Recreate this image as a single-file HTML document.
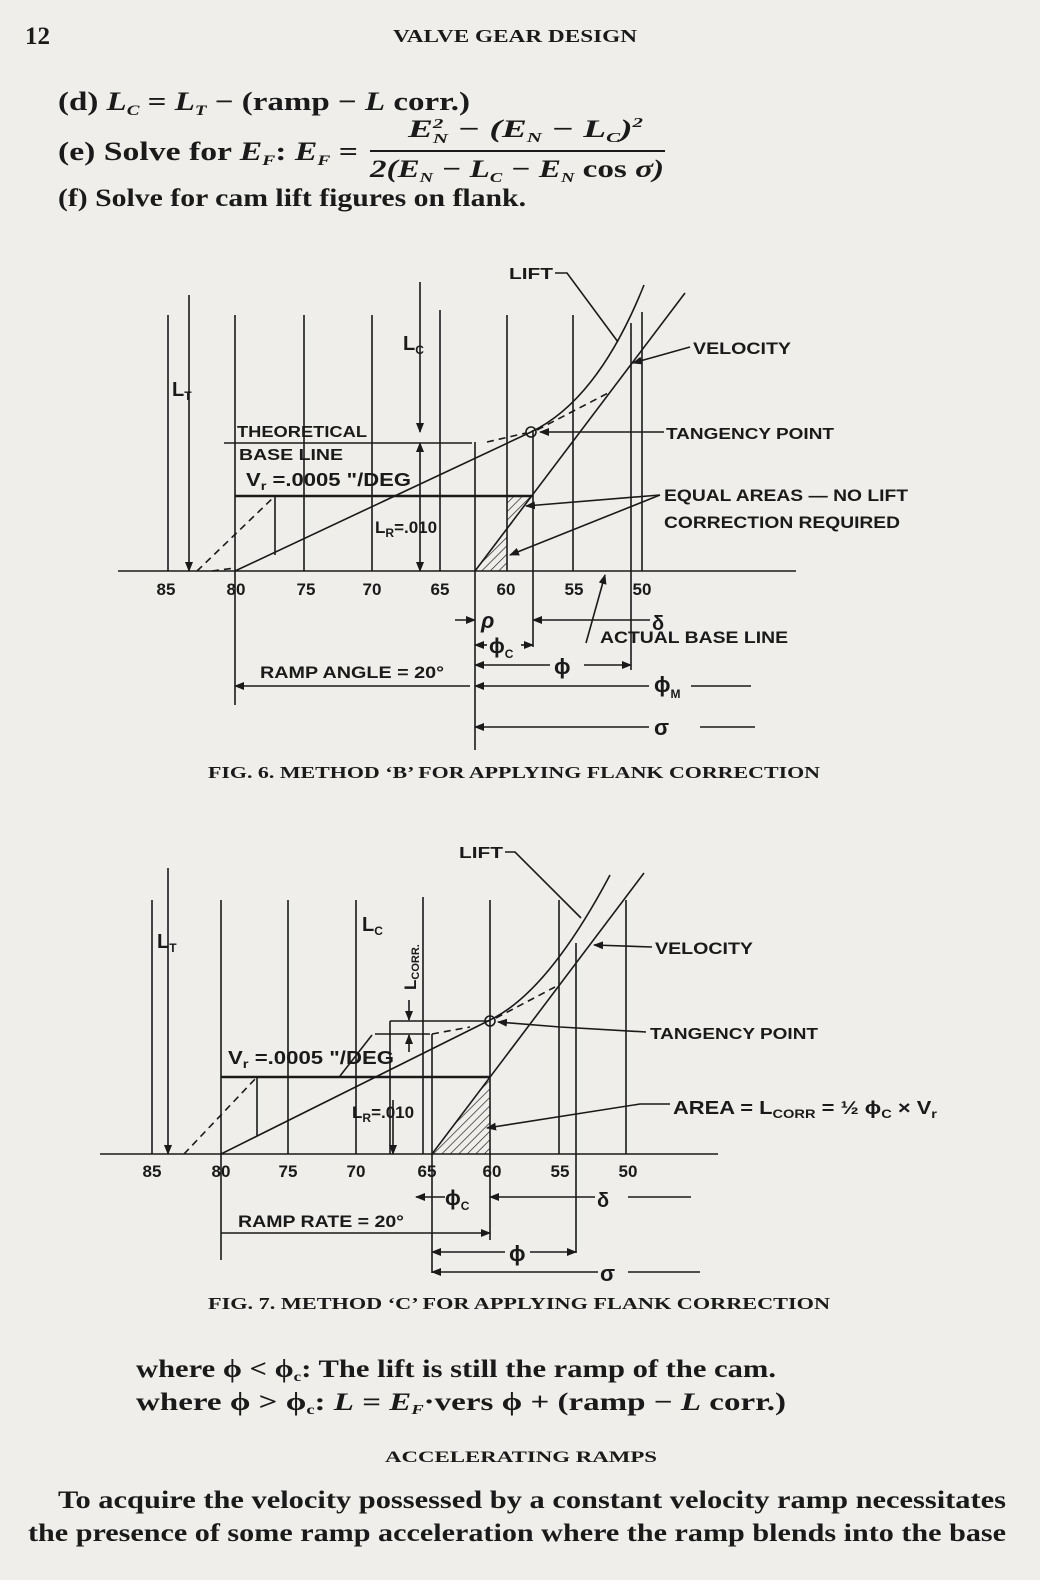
<!DOCTYPE html>
<html><head><meta charset="utf-8"><style>
html,body{margin:0;padding:0;background:#efeeeb;}
svg{display:block;}
.s{font-family:"Liberation Serif",serif;fill:#1a1a1a;}
.l{font-family:"Liberation Sans",sans-serif;fill:#1a1a1a;font-weight:bold;}
.k{stroke:#1a1a1a;stroke-width:1.6;fill:none;}
.d{stroke:#1a1a1a;stroke-width:1.6;fill:none;stroke-dasharray:7 5;}
</style></head><body>
<svg width="1040" height="1580" viewBox="0 0 1040 1580" xmlns="http://www.w3.org/2000/svg">
<defs>
<marker id="a" markerWidth="10" markerHeight="8" refX="9" refY="4" orient="auto" markerUnits="userSpaceOnUse"><path d="M0,0 L10,4 L0,8 z" fill="#1a1a1a"/></marker>
<pattern id="hp" width="6" height="6" patternUnits="userSpaceOnUse" patternTransform="rotate(45)"><line x1="0" y1="0" x2="0" y2="6" stroke="#1a1a1a" stroke-width="1.3"/></pattern>
</defs>
<rect width="1040" height="1580" fill="#efeeeb"/>

<text class="s" x="25" y="44" font-size="25" font-weight="bold">12</text>
<text class="s" x="393" y="42" font-size="18" font-weight="bold" textLength="244" lengthAdjust="spacingAndGlyphs">VALVE GEAR DESIGN</text>

<text class="s" x="58" y="110" font-size="26" font-weight="bold" textLength="412" lengthAdjust="spacingAndGlyphs">(d) <tspan font-style="italic">L</tspan><tspan font-size="15" font-style="italic" dy="5">C</tspan><tspan dy="-5"> = </tspan><tspan font-style="italic">L</tspan><tspan font-size="15" font-style="italic" dy="5">T</tspan><tspan dy="-5"> − (ramp − </tspan><tspan font-style="italic">L</tspan> corr.)</text>
<text class="s" x="58" y="160" font-size="26" font-weight="bold" textLength="300" lengthAdjust="spacingAndGlyphs">(e) Solve for <tspan font-style="italic">E</tspan><tspan font-size="15" font-style="italic" dy="5">F</tspan><tspan dy="-5">:  </tspan><tspan font-style="italic">E</tspan><tspan font-size="15" font-style="italic" dy="5">F</tspan><tspan dy="-5"> =</tspan></text>
<text class="s" x="408" y="137" font-size="25" font-weight="bold" font-style="italic" textLength="235" lengthAdjust="spacingAndGlyphs">E<tspan font-size="14" dy="-9">2</tspan><tspan font-size="14" dx="-7" dy="15">N</tspan><tspan dy="-6"> − (E</tspan><tspan font-size="14" dy="5">N</tspan><tspan dy="-5"> − L</tspan><tspan font-size="14" dy="5">C</tspan><tspan dy="-5">)</tspan><tspan font-size="14" dy="-10">2</tspan></text>
<line x1="370" y1="151" x2="665" y2="151" stroke="#1a1a1a" stroke-width="2"/>
<text class="s" x="370" y="177" font-size="25" font-weight="bold" font-style="italic" textLength="294" lengthAdjust="spacingAndGlyphs">2(E<tspan font-size="14" dy="5">N</tspan><tspan dy="-5"> − L</tspan><tspan font-size="14" dy="5">C</tspan><tspan dy="-5"> − E</tspan><tspan font-size="14" dy="5">N</tspan><tspan dy="-5" font-style="normal"> cos </tspan>σ)</text>
<text class="s" x="58" y="206" font-size="25" font-weight="bold" textLength="468" lengthAdjust="spacingAndGlyphs">(f)  Solve for cam lift figures on flank.</text>

<!-- FIG 6 -->
<g>
<line class="k" x1="118" y1="571" x2="796" y2="571"/>
<line class="k" x1="168" y1="315" x2="168" y2="571"/>
<line class="k" x1="235" y1="315" x2="235" y2="705"/>
<line class="k" x1="304" y1="315" x2="304" y2="571"/>
<line class="k" x1="372" y1="315" x2="372" y2="571"/>
<line class="k" x1="440" y1="310" x2="440" y2="571"/>
<line class="k" x1="507" y1="315" x2="507" y2="571"/>
<line class="k" x1="573" y1="315" x2="573" y2="571"/>
<line class="k" x1="642" y1="312" x2="642" y2="571"/>
<line class="k" x1="475" y1="442" x2="475" y2="750"/>
<line class="k" x1="533" y1="430" x2="533" y2="647"/>
<line class="k" x1="631" y1="323" x2="631" y2="670"/>
<line class="k" x1="189" y1="295" x2="189" y2="571" marker-end="url(#a)"/>
<text class="l" x="172" y="396" style="font-size:20px">L<tspan font-size="12" dy="4">T</tspan></text>
<line class="k" x1="420" y1="282" x2="420" y2="432" marker-end="url(#a)"/>
<line class="k" x1="420" y1="455" x2="420" y2="443" marker-end="url(#a)"/>
<line class="k" x1="420" y1="455" x2="420" y2="571" marker-end="url(#a)"/>
<text class="l" x="403" y="350" style="font-size:20px">L<tspan font-size="12" dy="4">C</tspan></text>
<line class="k" x1="224" y1="443" x2="472" y2="443"/>
<text class="l" x="237" y="437" style="font-size:16px" textLength="130" lengthAdjust="spacingAndGlyphs">THEORETICAL</text>
<text class="l" x="239" y="460" style="font-size:16px" textLength="104" lengthAdjust="spacingAndGlyphs">BASE LINE</text>
<text class="l" x="246" y="486" style="font-size:18px" textLength="165" lengthAdjust="spacingAndGlyphs">V<tspan font-size="12" dy="4">r</tspan><tspan dy="-4"> =.0005 "/DEG</tspan></text>
<line x1="235" y1="496" x2="533" y2="496" stroke="#1a1a1a" stroke-width="2.4"/>
<line class="k" x1="275" y1="496" x2="275" y2="555"/>
<line class="d" x1="197" y1="571" x2="275" y2="496"/>
<line class="d" x1="212" y1="571" x2="235" y2="568"/>
<text class="l" x="375" y="533" style="font-size:17px">L<tspan font-size="12" dy="4">R</tspan><tspan dy="-4">=.010</tspan></text>
<polygon points="507,496 533,496 507,530" fill="url(#hp)"/>
<polygon points="475,571 507,571 507,530" fill="url(#hp)"/>
<path class="k" d="M235,571 L531,432 Q598,400 644,285"/>
<line class="k" x1="475" y1="571" x2="685" y2="293"/>
<line class="d" x1="537" y1="430" x2="610" y2="392"/>
<line class="d" x1="487" y1="442" x2="526" y2="433"/>
<circle cx="531" cy="432" r="5" fill="none" stroke="#1a1a1a" stroke-width="1.6"/>
<text class="l" x="509" y="279" style="font-size:16px" textLength="44" lengthAdjust="spacingAndGlyphs">LIFT</text>
<path class="k" d="M555,273 L567,273 L618,342"/>
<text class="l" x="693" y="354" style="font-size:17px" textLength="98" lengthAdjust="spacingAndGlyphs">VELOCITY</text>
<line class="k" x1="690" y1="347" x2="633" y2="363" marker-end="url(#a)"/>
<text class="l" x="666" y="439" style="font-size:16px" textLength="168" lengthAdjust="spacingAndGlyphs">TANGENCY POINT</text>
<line class="k" x1="664" y1="432" x2="540" y2="432" marker-end="url(#a)"/>
<text class="l" x="664" y="501" style="font-size:17px" textLength="244" lengthAdjust="spacingAndGlyphs">EQUAL AREAS — NO LIFT</text>
<text class="l" x="664" y="528" style="font-size:17px" textLength="236" lengthAdjust="spacingAndGlyphs">CORRECTION REQUIRED</text>
<line class="k" x1="660" y1="495" x2="526" y2="506" marker-end="url(#a)"/>
<line class="k" x1="660" y1="495" x2="510" y2="555" marker-end="url(#a)"/>
<g class="l" style="font-size:17px" text-anchor="middle">
<text x="166" y="595">85</text><text x="236" y="595">80</text><text x="306" y="595">75</text><text x="372" y="595">70</text><text x="440" y="595">65</text><text x="506" y="595">60</text><text x="574" y="595">55</text><text x="642" y="595">50</text>
</g>
<line class="k" x1="455" y1="620" x2="475" y2="620" marker-end="url(#a)"/>
<text class="l" x="481" y="628" style="font-size:22px;font-style:italic">ρ</text>
<line class="k" x1="650" y1="620" x2="533" y2="620" marker-end="url(#a)"/>
<text class="l" x="652" y="630" style="font-size:20px">δ</text>
<line class="k" x1="487" y1="645" x2="475" y2="645" marker-end="url(#a)"/>
<line class="k" x1="521" y1="645" x2="533" y2="645" marker-end="url(#a)"/>
<text class="l" x="489" y="653" style="font-size:21px">ϕ<tspan font-size="12" dy="5">C</tspan></text>
<line class="k" x1="586" y1="643" x2="605" y2="575" marker-end="url(#a)"/>
<text class="l" x="600" y="643" style="font-size:17px" textLength="188" lengthAdjust="spacingAndGlyphs">ACTUAL BASE LINE</text>
<line class="k" x1="550" y1="665" x2="475" y2="665" marker-end="url(#a)"/>
<line class="k" x1="584" y1="665" x2="631" y2="665" marker-end="url(#a)"/>
<text class="l" x="554" y="674" style="font-size:22px">ϕ</text>
<text class="l" x="260" y="678" style="font-size:17px" textLength="184" lengthAdjust="spacingAndGlyphs">RAMP ANGLE = 20°</text>
<line class="k" x1="470" y1="686" x2="235" y2="686" marker-end="url(#a)"/>
<line class="k" x1="649" y1="686" x2="475" y2="686" marker-end="url(#a)"/>
<text class="l" x="654" y="692" style="font-size:22px">ϕ<tspan font-size="12" dy="6">M</tspan></text>
<line class="k" x1="691" y1="686" x2="751" y2="686"/>
<line class="k" x1="649" y1="727" x2="475" y2="727" marker-end="url(#a)"/>
<text class="l" x="654" y="735" style="font-size:22px">σ</text>
<line class="k" x1="700" y1="727" x2="755" y2="727"/>
</g>
<text class="s" x="208" y="778" font-size="17" font-weight="bold" textLength="612" lengthAdjust="spacingAndGlyphs">FIG. 6. METHOD ‘B’ FOR APPLYING FLANK CORRECTION</text>

<!-- FIG 7 -->
<g>
<line class="k" x1="100" y1="1154" x2="718" y2="1154"/>
<line class="k" x1="152" y1="900" x2="152" y2="1154"/>
<line class="k" x1="221" y1="900" x2="221" y2="1260"/>
<line class="k" x1="288" y1="900" x2="288" y2="1154"/>
<line class="k" x1="356" y1="900" x2="356" y2="1154"/>
<line class="k" x1="423" y1="897" x2="423" y2="1154"/>
<line class="k" x1="490" y1="900" x2="490" y2="1240"/>
<line class="k" x1="559" y1="900" x2="559" y2="1154"/>
<line class="k" x1="626" y1="900" x2="626" y2="1154"/>
<line class="k" x1="432" y1="1034" x2="432" y2="1273"/>
<line class="k" x1="576" y1="943" x2="576" y2="1253"/>
<line class="k" x1="390" y1="1021" x2="390" y2="1154"/>
<line class="k" x1="168" y1="868" x2="168" y2="1154" marker-end="url(#a)"/>
<text class="l" x="157" y="948" style="font-size:20px">L<tspan font-size="12" dy="4">T</tspan></text>
<text class="l" x="362" y="931" style="font-size:20px">L<tspan font-size="12" dy="4">C</tspan></text>
<text class="l" transform="translate(416,990) rotate(-90)" style="font-size:17px">L<tspan font-size="11" dy="3">CORR.</tspan></text>
<line class="k" x1="409" y1="1000" x2="409" y2="1020" marker-end="url(#a)"/>
<line class="k" x1="409" y1="1052" x2="409" y2="1035" marker-end="url(#a)"/>
<line class="k" x1="390" y1="1021" x2="490" y2="1021"/>
<line class="k" x1="375" y1="1034" x2="430" y2="1034"/>
<line class="k" x1="393" y1="1100" x2="393" y2="1154" marker-end="url(#a)"/>
<text class="l" x="352" y="1118" style="font-size:17px">L<tspan font-size="12" dy="4">R</tspan><tspan dy="-4">=.010</tspan></text>
<line x1="221" y1="1077" x2="490" y2="1077" stroke="#1a1a1a" stroke-width="2.4"/>
<line class="k" x1="257" y1="1077" x2="257" y2="1136"/>
<line class="d" x1="184" y1="1154" x2="257" y2="1077"/>
<line class="k" x1="340" y1="1076" x2="372" y2="1035"/>
<line class="d" x1="432" y1="1034" x2="470" y2="1027"/>
<text class="l" x="228" y="1064" style="font-size:18px" textLength="166" lengthAdjust="spacingAndGlyphs">V<tspan font-size="12" dy="4">r</tspan><tspan dy="-4"> =.0005 "/DEG</tspan></text>
<polygon points="432,1154 490,1154 490,1077" fill="url(#hp)"/>
<path class="k" d="M221,1154 L490,1020 Q548,992 610,875"/>
<line class="k" x1="432" y1="1154" x2="644" y2="873"/>
<line class="d" x1="496" y1="1018" x2="555" y2="987"/>
<circle cx="490" cy="1021" r="5" fill="none" stroke="#1a1a1a" stroke-width="1.6"/>
<text class="l" x="459" y="858" style="font-size:16px" textLength="44" lengthAdjust="spacingAndGlyphs">LIFT</text>
<path class="k" d="M505,852 L515,852 L581,918"/>
<text class="l" x="655" y="954" style="font-size:17px" textLength="98" lengthAdjust="spacingAndGlyphs">VELOCITY</text>
<line class="k" x1="652" y1="947" x2="594" y2="945" marker-end="url(#a)"/>
<text class="l" x="650" y="1039" style="font-size:16px" textLength="168" lengthAdjust="spacingAndGlyphs">TANGENCY POINT</text>
<path class="k" d="M646,1032 L560,1027 L498,1022" marker-end="url(#a)"/>
<text class="l" x="673" y="1114" style="font-size:18px" textLength="264" lengthAdjust="spacingAndGlyphs">AREA = L<tspan font-size="12" dy="4">CORR</tspan><tspan dy="-4"> = ½ ϕ</tspan><tspan font-size="12" dy="4">C</tspan><tspan dy="-4"> × V</tspan><tspan font-size="12" dy="4">r</tspan></text>
<path class="k" d="M670,1104 L640,1104 L487,1128" marker-end="url(#a)"/>
<g class="l" style="font-size:17px" text-anchor="middle">
<text x="152" y="1177">85</text><text x="221" y="1177">80</text><text x="288" y="1177">75</text><text x="356" y="1177">70</text><text x="427" y="1177">65</text><text x="492" y="1177">60</text><text x="560" y="1177">55</text><text x="628" y="1177">50</text>
</g>
<line class="k" x1="445" y1="1197" x2="416" y2="1197" marker-end="url(#a)"/>
<text class="l" x="445" y="1205" style="font-size:21px">ϕ<tspan font-size="12" dy="5">C</tspan></text>
<line class="k" x1="595" y1="1197" x2="490" y2="1197" marker-end="url(#a)"/>
<text class="l" x="597" y="1207" style="font-size:20px">δ</text>
<line class="k" x1="628" y1="1197" x2="691" y2="1197"/>
<text class="l" x="238" y="1227" style="font-size:17px" textLength="166" lengthAdjust="spacingAndGlyphs">RAMP RATE = 20°</text>
<line class="k" x1="221" y1="1233" x2="490" y2="1233" marker-end="url(#a)"/>
<line class="k" x1="505" y1="1252" x2="432" y2="1252" marker-end="url(#a)"/>
<line class="k" x1="530" y1="1252" x2="576" y2="1252" marker-end="url(#a)"/>
<text class="l" x="509" y="1261" style="font-size:22px">ϕ</text>
<line class="k" x1="598" y1="1272" x2="432" y2="1272" marker-end="url(#a)"/>
<text class="l" x="600" y="1281" style="font-size:22px">σ</text>
<line class="k" x1="628" y1="1272" x2="700" y2="1272"/>
</g>
<text class="s" x="208" y="1309" font-size="17" font-weight="bold" textLength="622" lengthAdjust="spacingAndGlyphs">FIG. 7. METHOD ‘C’ FOR APPLYING FLANK CORRECTION</text>

<text class="s" x="136" y="1377" font-size="25" font-weight="bold" textLength="640" lengthAdjust="spacingAndGlyphs">where ϕ &lt; ϕ<tspan font-size="14" dy="4">c</tspan><tspan dy="-4">:  The lift is still the ramp of the cam.</tspan></text>
<text class="s" x="136" y="1410" font-size="25" font-weight="bold" textLength="650" lengthAdjust="spacingAndGlyphs">where ϕ &gt; ϕ<tspan font-size="14" dy="4">c</tspan><tspan dy="-4">:  </tspan><tspan font-style="italic">L</tspan> = <tspan font-style="italic">E</tspan><tspan font-size="14" font-style="italic" dy="4">F</tspan><tspan dy="-4">·vers ϕ + (ramp − </tspan><tspan font-style="italic">L</tspan> corr.)</text>
<text class="s" x="385" y="1462" font-size="16" font-weight="bold" textLength="272" lengthAdjust="spacingAndGlyphs">ACCELERATING RAMPS</text>
<text class="s" x="58" y="1508" font-size="25" font-weight="bold" textLength="948" lengthAdjust="spacingAndGlyphs">To acquire the velocity possessed by a constant velocity ramp necessitates</text>
<text class="s" x="28" y="1541" font-size="25" font-weight="bold" textLength="978" lengthAdjust="spacingAndGlyphs">the presence of some ramp acceleration where the ramp blends into the base</text>
</svg>
</body></html>
